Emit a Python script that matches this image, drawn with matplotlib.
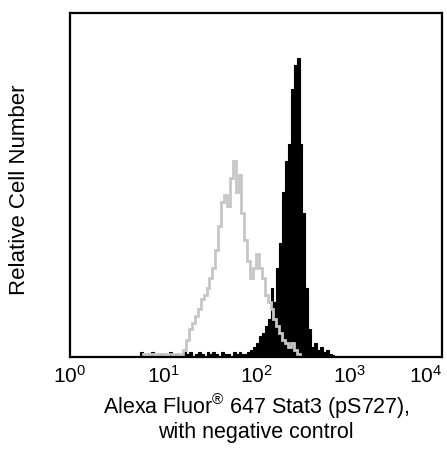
import numpy as np
import matplotlib
matplotlib.use("Agg")
import matplotlib.pyplot as plt

plt.rcParams['font.family'] = ['Liberation Sans', 'DejaVu Sans']
plt.rcParams['mathtext.fontset'] = 'custom'
plt.rcParams['mathtext.rm'] = 'Liberation Sans'
plt.rcParams['mathtext.it'] = 'Liberation Sans'

# histogram channels: log10 start of first channel, channels per decade
log_start = 0.75
channels_per_decade = 32

# negative control (grey outline), relative counts
control = [0, 1, 0, 1, 1, 0, 1, 0, 1, 1, 0, 1, 1, 0,
           1, 2, 5, 8, 10, 12, 14, 17, 18, 20, 23, 26, 31, 38, 45, 47, 44,
           52, 57, 48, 53, 42, 34, 28, 23, 26, 30, 26, 23, 18, 16, 14, 11,
           9, 7, 5, 4, 3, 4, 2, 1,
           0, 0, 0, 0, 0, 0, 0, 0, 0, 0, 0, 0, 0, 0, 0, 0, 0]

# Alexa Fluor 647 Stat3 (pS727) stained cells (black fill)
stained = [1.5, 0, 1, 0, 1.5, 0, 0, 1, 0, 0, 1.5, 0, 1, 1, 0, 1.5, 1, 1.5,
           0, 1, 1.5, 1, 0, 1.5, 1, 1.5, 1, 0, 1.5, 1, 1, 0, 1.5, 1, 1.5, 1, 1,
           1.5, 2, 3, 4, 6, 7, 9, 11, 20, 16, 26, 33, 48, 57, 62, 78, 85, 87,
           62, 42, 20, 8, 3, 4, 2, 3, 1.5, 2, 1, 0.5,
           0, 0, 0, 0, 0]

tick_values = [1, 10, 100, 1000, 10000]
tick_labels = [r'$10^0$', r'$10^1$', r'$10^2$', r'$10^3$', r'$10^4$']

edges = 10 ** (log_start + np.arange(len(stained) + 1) / channels_per_decade)

fig = plt.figure(figsize=(4.47, 4.49), dpi=100)
ax = fig.add_axes([0.1566, 0.2049, 0.8322, 0.7661])

# black filled histogram, one bar per channel
ax.bar(edges[:-1], stained, width=np.diff(edges), align='edge',
       color='black', edgecolor='black', linewidth=0.8)
ax.stairs(control, edges, color='#c6c6c6', linewidth=2, baseline=0)

ax.set_xscale('log')
ax.set_xlim(1, 10000)
ax.set_ylim(0, 100)
ax.set_yticks([])
ax.set_xticks(tick_values)
ax.set_xticklabels(tick_labels)
ax.minorticks_off()
ax.tick_params(axis='x', length=0, pad=6, labelsize=15)
ax.get_xticklabels()[-1].set_ha('right')

for s in ax.spines.values():
    s.set_linewidth(1.6)

# axis titles
fig.text(0.573, 1 - 414 / 449, 'Alexa Fluor$^{®}$ 647 Stat3 (pS727),',
         fontsize=15.5, ha='center', va='baseline')
fig.text(0.573, 1 - 438 / 449, 'with negative control',
         fontsize=15.5, ha='center', va='baseline')
fig.text(20 / 447, 1 - 190 / 449, 'Relative Cell Number', fontsize=16,
         rotation=90, ha='center', va='center')

fig.savefig('out.png', dpi=100)
